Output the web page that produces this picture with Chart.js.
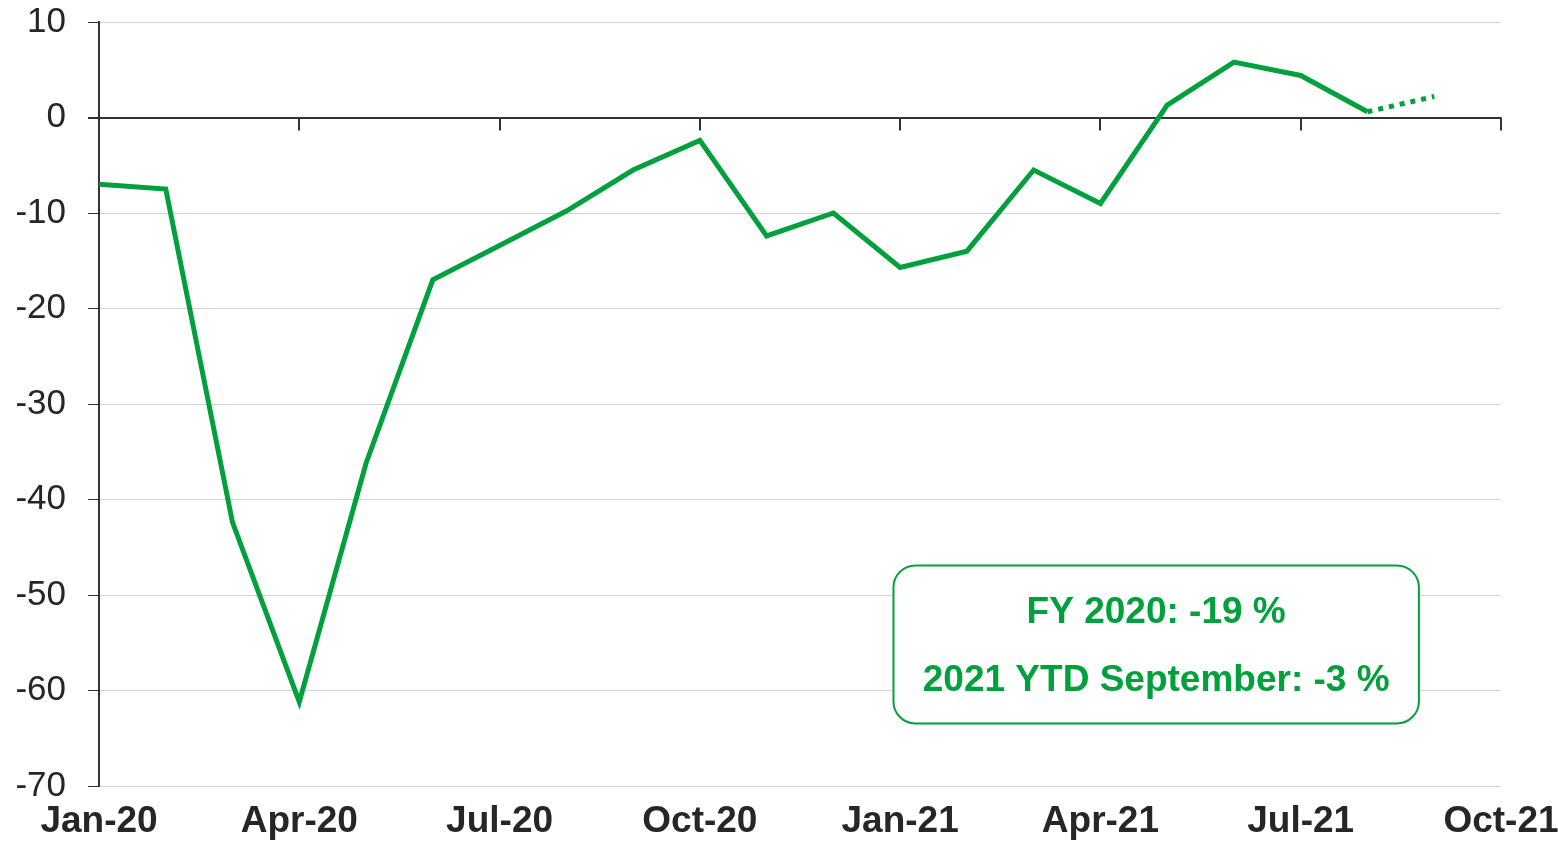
<!DOCTYPE html>
<html>
<head>
<meta charset="utf-8">
<script src="https://cdn.jsdelivr.net/npm/chart.js@4/dist/chart.umd.min.js"></script>
<style>
  html, body { margin: 0; padding: 0; background: #fff; }
  #wrap { width: 1558px; height: 841px; position: relative; }
</style>
</head>
<body>
<div id="wrap"><canvas id="graphe"></canvas></div>
<script>
// mois affichés sur l'axe (Jan-20 .. Oct-21)
const mois = ['Jan-20','Feb-20','Mar-20','Apr-20','May-20','Jun-20','Jul-20','Aug-20','Sep-20','Oct-20','Nov-20','Dec-20',
              'Jan-21','Feb-21','Mar-21','Apr-21','May-21','Jun-21','Jul-21','Aug-21','Sep-21','Oct-21'];
const etiquettesX = ['Jan-20','Apr-20','Jul-20','Oct-20','Jan-21','Apr-21','Jul-21','Oct-21'];
// variation en %, Jan-20 .. Sep-21 (Sep-21 = estimation, en pointillé)
const valeurs = [-7.0, -7.5, -42.4, -61.2, -36.2, -17.0, -13.4, -9.8, -5.5, -2.4, -12.4, -10.0,
                 -15.7, -14.0, -5.5, -9.0, 1.3, 5.8, 4.4, 0.6, 2.2];
const graduationsY = [10, 0, -10, -20, -30, -40, -50, -60, -70];
const texteEncadre = ['FY 2020: -19 %', '2021 YTD September: -3 %'];

const vert = '#00a03c';
const dernier = valeurs.length - 1;

// trait de l'axe à zéro avec ses graduations + encadré
const decor = {
    id: 'decor',
    beforeDatasetsDraw(chart) {
        const ctx = chart.ctx;
        const x = chart.scales.x, y = chart.scales.y;
        const y0 = y.getPixelForValue(0);
        ctx.save();
        ctx.strokeStyle = '#333';
        ctx.lineWidth = 2;
        etiquettesX.forEach(lab => {
            const px = Math.round(x.getPixelForValue(mois.indexOf(lab)));
            ctx.beginPath();
            ctx.moveTo(px, y0);
            ctx.lineTo(px, y0 + 13);
            ctx.stroke();
        });
        ctx.restore();
    },
    afterDraw(chart) {
        const ctx = chart.ctx;
        const x = chart.scales.x, y = chart.scales.y;
        const gauche = x.getPixelForValue(11.9), droite = x.getPixelForValue(19.77);
        const haut = y.getPixelForValue(-46.9), bas = y.getPixelForValue(-63.45);
        ctx.save();
        ctx.strokeStyle = vert;
        ctx.lineWidth = 2;
        ctx.fillStyle = '#fff';
        ctx.beginPath();
        ctx.roundRect(gauche, haut, droite - gauche, bas - haut, 22);
        ctx.fill();
        ctx.stroke();
        ctx.fillStyle = vert;
        ctx.font = 'bold 37px "Liberation Sans", Arial, sans-serif';
        ctx.textAlign = 'center';
        ctx.textBaseline = 'middle';
        const cx = (gauche + droite) / 2;
        ctx.fillText(texteEncadre[0], cx, haut + 47);
        ctx.fillText(texteEncadre[1], cx, haut + 115);
        ctx.restore();
    }
};

new Chart(document.getElementById('graphe'), {
    type: 'line',
    data: {
        labels: mois,
        datasets: [{
            data: valeurs,
            borderColor: vert,
            borderWidth: 5,
            pointRadius: 0,
            tension: 0,
            borderCapStyle: 'butt',
            segment: {
                borderDash: c => c.p1DataIndex === dernier ? [5, 6] : undefined
            }
        }]
    },
    options: {
        responsive: true,
        maintainAspectRatio: false,
        animation: false,
        layout: { padding: { top: 22, right: 57, left: 0, bottom: 0 } },
        plugins: { legend: { display: false }, tooltip: { enabled: false } },
        scales: {
            x: {
                type: 'category',
                offset: false,
                grid: { display: false, drawTicks: false },
                border: { display: false },
                ticks: {
                    autoSkip: false,
                    maxRotation: 0,
                    padding: 14,
                    color: '#262626',
                    font: { family: '"Liberation Sans", Arial, sans-serif', size: 37, weight: 'bold' },
                    callback: (v, i) => etiquettesX.includes(mois[i]) ? mois[i] : ''
                },
                afterFit(s) { s.height = 55; s.paddingLeft = 0; s.paddingRight = 0; }
            },
            y: {
                min: -70,
                max: 10,
                afterBuildTicks(s) { s.ticks = graduationsY.map(v => ({ value: v })); },
                grid: {
                    color: c => c.tick && c.tick.value === 0 ? '#333' : '#d4d4d4',
                    lineWidth: c => c.tick && c.tick.value === 0 ? 2 : 1,
                    tickColor: '#333',
                    tickLength: 11
                },
                border: { display: true, color: '#333', width: 2 },
                ticks: {
                    padding: 22,
                    color: '#262626',
                    font: { family: '"Liberation Sans", Arial, sans-serif', size: 35 }
                },
                afterFit(s) { s.width = 99; s.paddingTop = 0; s.paddingBottom = 0; }
            }
        }
    },
    plugins: [decor]
});
</script>
</body>
</html>
